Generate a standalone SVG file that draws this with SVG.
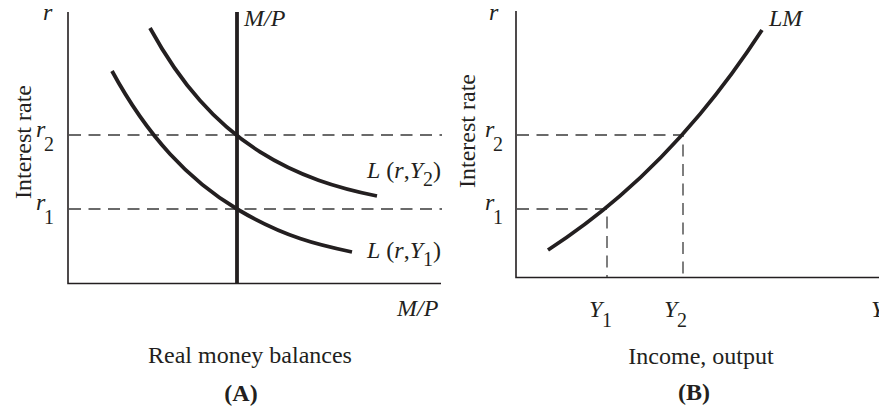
<svg xmlns="http://www.w3.org/2000/svg" width="879" height="410" viewBox="0 0 879 410">
<style>
text{font-family:"Liberation Serif","Times New Roman",serif;fill:#231f20;font-size:24px}
.i{font-style:italic}
.sub{font-size:20px;font-style:normal}
.b{font-weight:bold}
.axis{stroke:#231f20;stroke-width:1.6;fill:none}
.curve{stroke:#231f20;stroke-width:3.8;fill:none;stroke-linecap:butt}
.dash{stroke:#3a3a3a;stroke-width:1.3;fill:none;stroke-dasharray:12 7.5}
</style>
<rect width="879" height="410" fill="#fff"/>
<g id="panelA">
  <g id="axesA">
    <path class="axis" d="M68,12 V283.5 H441"/>
  </g>
  <g id="connectorsA">
    <path class="dash" d="M69,135 H442"/>
    <path class="dash" d="M69,209 H442"/>
  </g>
  <g id="MP-line">
    <path class="curve" d="M237,12 V284"/>
    <text class="i" x="244" y="26">M/P</text>
  </g>
  <g id="L-Y2">
    <path class="curve" d="M150,28 C166.7,58.5 183.3,81.8 200,100.6 C220,123.2 240,139.3 260,151.9 C299,176.5 338,188.1 377,196"/>
    <text x="367" y="178"><tspan class="i">L</tspan> (<tspan class="i">r</tspan>,<tspan class="i">Y</tspan><tspan class="sub" dy="8">2</tspan><tspan dy="-8">)</tspan></text>
  </g>
  <g id="L-Y1">
    <path class="curve" d="M112,71 C131.3,106.5 150.7,132.9 170,154 C192.3,178.4 214.7,195.6 237,209 C258,221.6 279,231.4 300,238.5 C317.3,244.4 334.7,248.3 352,252"/>
    <text x="367" y="258"><tspan class="i">L</tspan> (<tspan class="i">r</tspan>,<tspan class="i">Y</tspan><tspan class="sub" dy="8">1</tspan><tspan dy="-8">)</tspan></text>
  </g>
  <g id="labelsA">
    <text class="i" x="43" y="20">r</text>
    <text class="i" x="36" y="137">r</text>
    <text class="sub" x="44" y="151">2</text>
    <text class="i" x="36" y="210">r</text>
    <text class="sub" x="44" y="224">1</text>
    <text transform="translate(31,142) rotate(-90)" text-anchor="middle">Interest rate</text>
    <text class="i" x="397" y="316">M/P</text>
    <text x="250" y="363" text-anchor="middle">Real money balances</text>
    <text class="b" x="241" y="401" text-anchor="middle">(A)</text>
  </g>
</g>
<g id="panelB">
  <g id="axesB">
    <path class="axis" d="M516,11 V277.5 H879"/>
  </g>
  <g id="connectorsB">
    <path class="dash" d="M517,135 H683 V277"/>
    <path class="dash" d="M517,209 H607 V277"/>
  </g>
  <g id="LM">
    <path class="curve" d="M548,250 C572,234.4 596,216.7 620,195.9 C646.7,172.8 673.3,146 700,114.1 C720.7,89.4 741.3,61.7 762,30"/>
    <text class="i" x="769" y="26">LM</text>
  </g>
  <g id="labelsB">
    <text class="i" x="489" y="20">r</text>
    <text class="i" x="485" y="137">r</text>
    <text class="sub" x="493" y="151">2</text>
    <text class="i" x="485" y="210">r</text>
    <text class="sub" x="493" y="224">1</text>
    <text transform="translate(475,131) rotate(-90)" text-anchor="middle">Interest rate</text>
    <text class="i" x="589" y="317">Y</text>
    <text class="sub" x="602" y="327">1</text>
    <text class="i" x="664" y="317">Y</text>
    <text class="sub" x="677" y="327">2</text>
    <text class="i" x="871" y="317">Y</text>
    <text x="701" y="364" text-anchor="middle">Income, output</text>
    <text class="b" x="694" y="400" text-anchor="middle">(B)</text>
  </g>
</g>
</svg>
